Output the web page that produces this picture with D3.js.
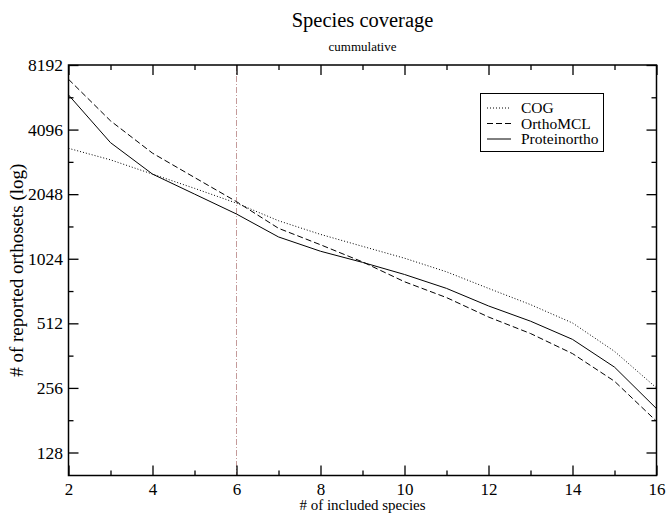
<!DOCTYPE html>
<html>
<head>
<meta charset="utf-8">
<script src="https://cdn.jsdelivr.net/npm/d3@7"></script>
<style>
  body { margin: 0; background: #fff; }
  text { font-family: "Liberation Serif", "DejaVu Serif", serif; fill: #000; }
</style>
</head>
<body>
<div id="chart"></div>
<script>
// data
var species = [2, 3, 4, 5, 6, 7, 8, 9, 10, 11, 12, 13, 14, 15, 16];
var cog = [3350, 2960, 2540, 2180, 1860, 1540, 1330, 1170, 1030, 890, 745, 626, 514, 379, 256];
var orthoMCL = [7030, 4500, 3180, 2450, 1890, 1420, 1190, 990, 800, 675, 548, 459, 370, 275, 179];
var proteinortho = [5940, 3560, 2540, 2050, 1655, 1294, 1110, 985, 865, 745, 617, 524, 431, 320, 205];
var seriesNames = ["COG", "OrthoMCL", "Proteinortho"];
var yTicks = [128, 256, 512, 1024, 2048, 4096, 8192];
var xTicks = [2, 4, 6, 8, 10, 12, 14, 16];
var markerX = 6;

var width = 666,
    height = 514;
var margin = {left: 68.5, right: 9.5, top: 65, bottom: 38.5};
var serif = "Liberation Serif, DejaVu Serif, serif";

var svg = d3.select("#chart")
    .append("svg")
    .attr("width", width)
    .attr("height", height);

var x = d3.scaleLinear()
    .domain([2, 16])
    .range([margin.left, width - margin.right]);

var y = d3.scaleLog()
    .base(2)
    .domain([100, 8192])
    .range([height - margin.bottom, margin.top]);

// titles
svg.append("text")
    .attr("x", 362.5).attr("y", 27)
    .attr("text-anchor", "middle")
    .style("font-size", "20.5px")
    .text("Species coverage");

svg.append("text")
    .attr("x", 362.5).attr("y", 51)
    .attr("text-anchor", "middle")
    .style("font-size", "13px")
    .text("cummulative");

// marker line at 6 species
svg.append("line")
    .attr("x1", x(markerX)).attr("x2", x(markerX))
    .attr("y1", y(8192)).attr("y2", y(100))
    .attr("stroke", "#c49a9a")
    .attr("stroke-width", 1)
    .attr("stroke-dasharray", "6,2,1,2");

// axes, ticks pointing inward on all four sides
var xMinor = d3.range(3, 16, 2);
var yMinor = yTicks.map(d => d * Math.SQRT2).filter(d => d < 8192);

function noText(g) { g.selectAll("text").remove(); }

svg.append("g")
    .attr("transform", "translate(0," + y(100) + ")")
    .call(d3.axisBottom(x).tickValues(xTicks).tickSize(-10).tickPadding(7).tickFormat(d3.format("d")))
    .call(g => g.select(".domain").remove())
    .call(g => g.attr("font-family", serif).attr("font-size", 17));

svg.append("g")
    .attr("transform", "translate(0," + y(100) + ")")
    .call(d3.axisBottom(x).tickValues(xMinor).tickSize(-5))
    .call(g => g.select(".domain").remove())
    .call(noText);

svg.append("g")
    .attr("transform", "translate(0," + y(8192) + ")")
    .call(d3.axisTop(x).tickValues(xTicks).tickSize(-10))
    .call(g => g.select(".domain").remove())
    .call(noText);

svg.append("g")
    .attr("transform", "translate(0," + y(8192) + ")")
    .call(d3.axisTop(x).tickValues(xMinor).tickSize(-5))
    .call(g => g.select(".domain").remove())
    .call(noText);

svg.append("g")
    .attr("transform", "translate(" + x(2) + ",0)")
    .call(d3.axisLeft(y).tickValues(yTicks).tickSize(-10).tickPadding(5.5).tickFormat(d3.format("d")))
    .call(g => g.select(".domain").remove())
    .call(g => g.attr("font-family", serif).attr("font-size", 17.5));

svg.append("g")
    .attr("transform", "translate(" + x(2) + ",0)")
    .call(d3.axisLeft(y).tickValues(yMinor).tickSize(-5))
    .call(g => g.select(".domain").remove())
    .call(noText);

svg.append("g")
    .attr("transform", "translate(" + x(16) + ",0)")
    .call(d3.axisRight(y).tickValues(yTicks).tickSize(-10))
    .call(g => g.select(".domain").remove())
    .call(noText);

svg.append("g")
    .attr("transform", "translate(" + x(16) + ",0)")
    .call(d3.axisRight(y).tickValues(yMinor).tickSize(-5))
    .call(g => g.select(".domain").remove())
    .call(noText);

svg.selectAll(".tick line").attr("stroke-width", 1.3);

// frame
svg.append("rect")
    .attr("x", x(2)).attr("y", y(8192))
    .attr("width", x(16) - x(2))
    .attr("height", y(100) - y(8192))
    .attr("fill", "none")
    .attr("stroke", "#000")
    .attr("stroke-width", 1.5);

// axis titles
svg.append("text")
    .attr("x", 362.5).attr("y", 510)
    .attr("text-anchor", "middle")
    .style("font-size", "15px")
    .text("# of included species");

svg.append("text")
    .attr("transform", "translate(23," + (y(100) + y(8192)) / 2 + ") rotate(-90)")
    .attr("text-anchor", "middle")
    .style("font-size", "19px")
    .text("# of reported orthosets (log)");

// series
var dashes = ["1,2", "6,3", null];
var allSeries = [cog, orthoMCL, proteinortho];

var line = d3.line()
    .x((d, i) => x(species[i]))
    .y(d => y(d));

allSeries.forEach((s, k) => {
    svg.append("path")
        .datum(s)
        .attr("d", line)
        .attr("fill", "none")
        .attr("stroke", "#000")
        .attr("stroke-width", 1)
        .attr("stroke-dasharray", dashes[k]);
});

// legend
var legend = svg.append("g");
legend.append("rect")
    .attr("x", 480.5).attr("y", 93.5)
    .attr("width", 123).attr("height", 58)
    .attr("fill", "#fff")
    .attr("stroke", "#000")
    .attr("stroke-width", 1);

seriesNames.forEach((name, k) => {
    var ly = 108 + k * 15.5;
    legend.append("line")
        .attr("x1", 487).attr("x2", 511)
        .attr("y1", ly).attr("y2", ly)
        .attr("stroke", "#000")
        .attr("stroke-width", 1)
        .attr("stroke-dasharray", dashes[k]);
    legend.append("text")
        .attr("x", 521).attr("y", ly + 5)
        .style("font-size", "15.5px")
        .text(name);
});
</script>
</body>
</html>
